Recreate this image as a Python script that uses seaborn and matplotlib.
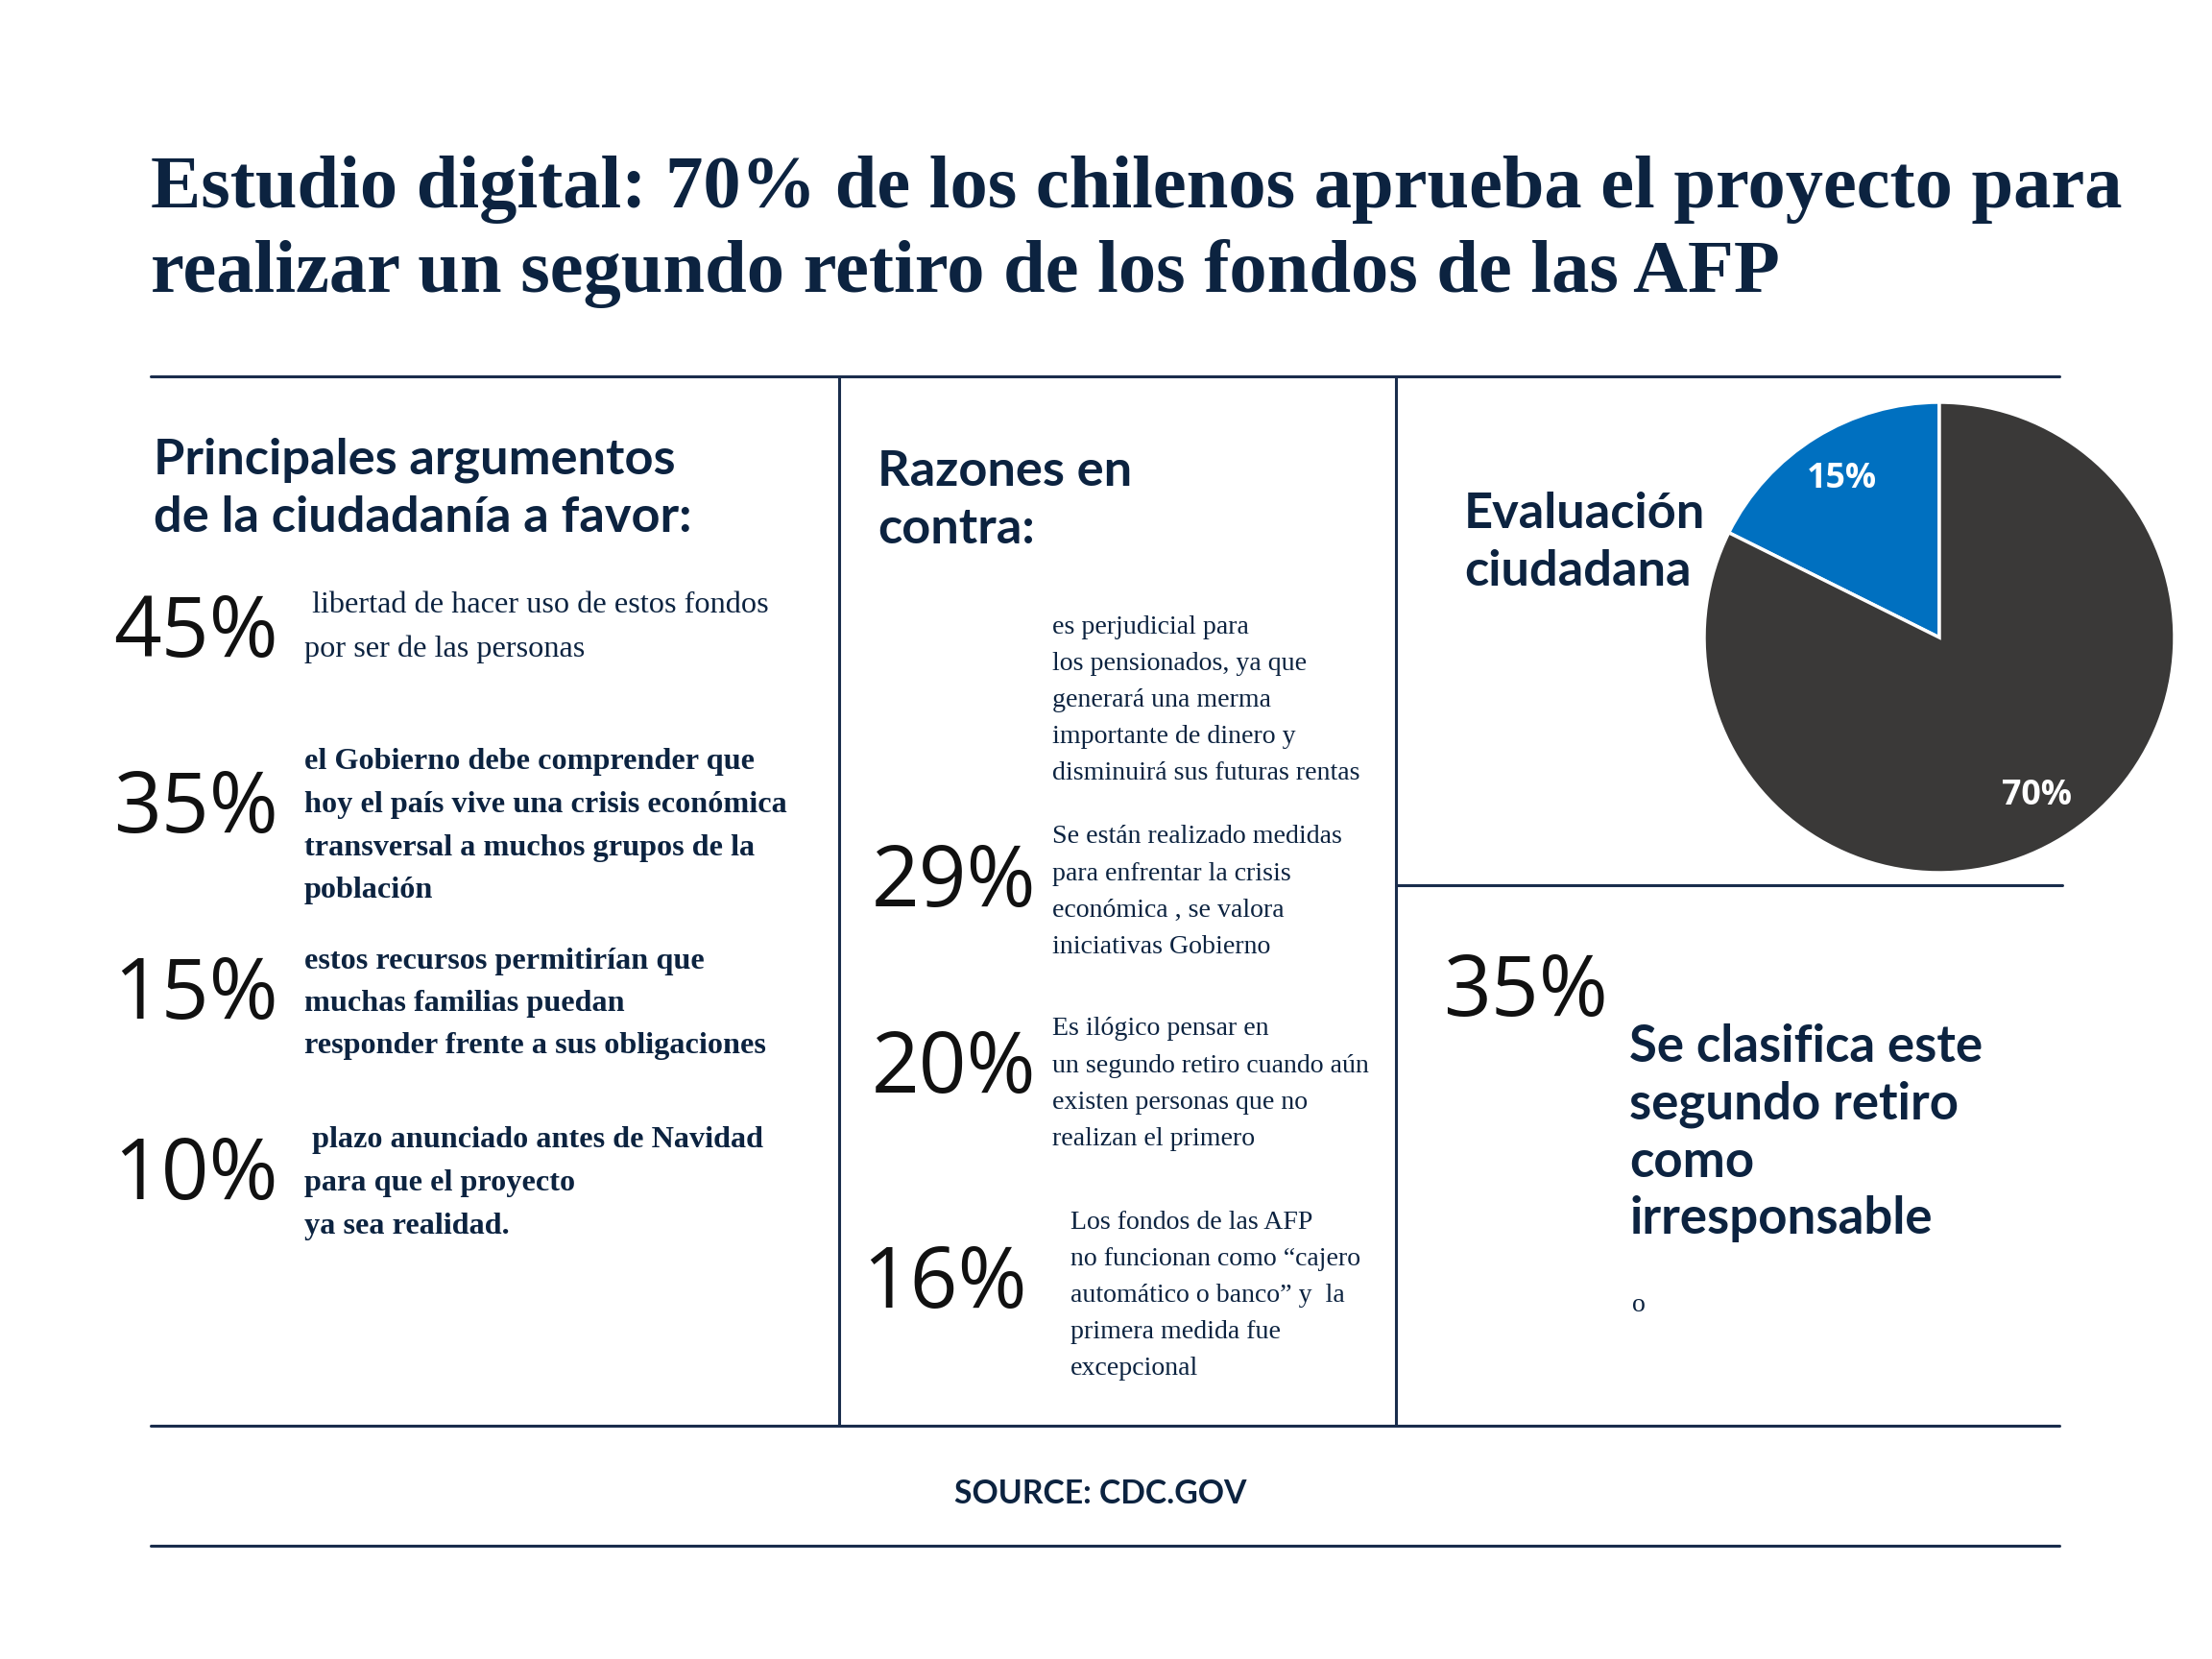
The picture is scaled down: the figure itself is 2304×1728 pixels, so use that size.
import matplotlib
matplotlib.use("Agg")
import matplotlib.pyplot as plt
import seaborn as sns

# ---------------- data ----------------
title_lines = ["Estudio digital: 70% de los chilenos aprueba el proyecto para",
               "realizar un segundo retiro de los fondos de las AFP"]

favor_heading = ["Principales argumentos", "de la ciudadanía a favor:"]
favor_pcts = ["45%", "35%", "15%", "10%"]
favor_texts = [
    [" libertad de hacer uso de estos fondos", "por ser de las personas"],
    ["el Gobierno debe comprender que", "hoy el país vive una crisis económica",
     "transversal a muchos grupos de la", "población"],
    ["estos recursos permitirían que", "muchas familias puedan",
     "responder frente a sus obligaciones"],
    [" plazo anunciado antes de Navidad", "para que el proyecto", "ya sea realidad."],
]
favor_bold = [False, True, True, True]

contra_heading = ["Razones en", "contra:"]
contra_intro = ["es perjudicial para", "los pensionados, ya que", "generará una merma",
                "importante de dinero y", "disminuirá sus futuras rentas"]
contra_pcts = ["29%", "20%", "16%"]
contra_texts = [
    ["Se están realizado medidas", "para enfrentar la crisis",
     "económica , se valora", "iniciativas Gobierno"],
    ["Es ilógico pensar en", "un segundo retiro cuando aún",
     "existen personas que no", "realizan el primero"],
    ["Los fondos de las AFP", "no funcionan como \u201ccajero",
     "automático o banco\u201d y  la", "primera medida fue", "excepcional"],
]

eval_heading = ["Evaluación", "ciudadana"]
pie_labels = ["15%", "70%"]
pie_values = [15, 70]

irresp_pct = "35%"
irresp_text = ["Se clasifica este", "segundo retiro", "como", "irresponsable"]
irresp_note = "o"

source_text = "SOURCE: CDC.GOV"

# ---------------- style ----------------
sns.set_theme(style="white")
NAVY = "#0c2340"
LINE = "#1a2d4c"
BLUE = "#0070c0"
DARK = "#3a3938"
SERIF = ["Liberation Serif", "DejaVu Serif"]
SANS_H = ["Lato", "DejaVu Sans"]
SANS_N = ["Open Sans", "DejaVu Sans"]

W, H = 2304, 1728
fig = plt.figure(figsize=(W / 100, H / 100), dpi=100)
fig.patch.set_facecolor("white")
ax = fig.add_axes([0, 0, 1, 1])
ax.set_xlim(0, W)
ax.set_ylim(H, 0)
ax.axis("off")
renderer = fig.canvas.get_renderer()


def fit_size(s, family, weight, target_px):
    t = ax.text(0, 0, s, fontsize=50, family=family, weight=weight)
    w = t.get_window_extent(renderer=renderer).width
    t.remove()
    return 50 * target_px / w


fs_title = fit_size(title_lines[0], SERIF, "bold", 2058)
fs_head = fit_size(favor_heading[0], SANS_H, "bold", 545)
fs_pct = fit_size(favor_pcts[0], SANS_N, "normal", 172)
fs_left_reg = fit_size(favor_texts[0][0].strip(), SERIF, "normal", 476)
fs_left_bold = fit_size(favor_texts[1][1], SERIF, "bold", 502)
fs_mid = fit_size(contra_intro[4], SERIF, "normal", 320)
fs_irr = fit_size(irresp_text[0], SANS_H, "bold", 369)
fs_src = fit_size(source_text, SANS_H, "bold", 305)
fs_pie = fit_size(pie_labels[0], SANS_N, "bold", 73)

TXT_OFF = 4   # px shift for text lines
PCT_OFF = 7   # px shift for big percentages


def lines_at(x, y0, dy, lines, **kw):
    for i, s in enumerate(lines):
        ax.text(x, y0 + i * dy + TXT_OFF, s, va="center", ha="left", **kw)


def big_pct(x, y, s):
    ax.text(x, y + PCT_OFF, s, fontsize=fs_pct, family=SANS_N, color="#111111",
            va="center", ha="left")


# title
for s, yb in zip(title_lines, [216, 304]):
    ax.text(157, yb, s, fontsize=fs_title, family=SERIF, weight="bold",
            color=NAVY, va="baseline", ha="left")

# rules
lw = 2.2
ax.plot([157, 2145], [392, 392], color=LINE, lw=lw)
ax.plot([157, 2145], [1485, 1485], color=LINE, lw=lw)
ax.plot([157, 2145], [1610, 1610], color=LINE, lw=lw)
ax.plot([874, 874], [392, 1485], color=LINE, lw=lw)
ax.plot([1454, 1454], [392, 1485], color=LINE, lw=lw)
ax.plot([1454, 2148], [922, 922], color=LINE, lw=lw)

# left column
lines_at(160, 475, 60, favor_heading, fontsize=fs_head, family=SANS_H,
         weight="bold", color=NAVY)
pct_y = [654, 837, 1031, 1219]
text_y0 = [627, 790, 997, 1184]
for p, y, lines, y0, b in zip(favor_pcts, pct_y, favor_texts, text_y0, favor_bold):
    big_pct(118, y, p)
    lines_at(317, y0, 45 if not b else 44.5, lines,
             fontsize=fs_left_bold if b else fs_left_reg, family=SERIF,
             weight="bold" if b else "normal", color=NAVY)

# middle column
lines_at(914, 488, 60, contra_heading, fontsize=fs_head, family=SANS_H,
         weight="bold", color=NAVY)
lines_at(1096, 649, 38, contra_intro, fontsize=fs_mid, family=SERIF, color=NAVY)
mid_pct_x = [908, 908, 898]
mid_pct_y = [914, 1108, 1332]
mid_txt_x = [1096, 1096, 1115]
mid_txt_y = [868, 1068, 1269]
for p, px, py, lines, tx, ty in zip(contra_pcts, mid_pct_x, mid_pct_y,
                                     contra_texts, mid_txt_x, mid_txt_y):
    big_pct(px, py, p)
    lines_at(tx, ty, 38.2, lines, fontsize=fs_mid, family=SERIF, color=NAVY)

# right column
lines_at(1525, 532, 59, eval_heading, fontsize=fs_head, family=SANS_H,
         weight="bold", color=NAVY)

cx, cy, r = 2020, 664, 245
pax = fig.add_axes([(cx - r) / W, 1 - (cy + r) / H, 2 * r / W, 2 * r / H])
total = sum(pie_values)
wedges, _, autotexts = pax.pie(
    pie_values, colors=[BLUE, DARK], startangle=90, counterclock=True,
    autopct=lambda pc: f"{pc * total / 100:.0f}%", pctdistance=0.79,
    wedgeprops=dict(edgecolor="white", linewidth=2.5),
    textprops=dict(color="white", fontsize=fs_pie, family=SANS_N, weight="bold"))
pax.set_xlim(-1, 1)
pax.set_ylim(-1, 1)
pax.set_aspect("equal")
pax.axis("off")

big_pct(1503, 1028, irresp_pct)
lines_at(1697, 1087, 59.5, irresp_text, fontsize=fs_irr, family=SANS_H,
         weight="bold", color=NAVY)
ax.text(1700, 1356 + TXT_OFF, irresp_note, fontsize=fs_mid, family=SERIF,
        color=NAVY, va="center", ha="left")

# source
ax.text(1146, 1556, source_text, fontsize=fs_src, family=SANS_H, weight="bold",
        color=NAVY, va="center", ha="center")

fig.savefig("out.png", dpi=100, facecolor="white")
